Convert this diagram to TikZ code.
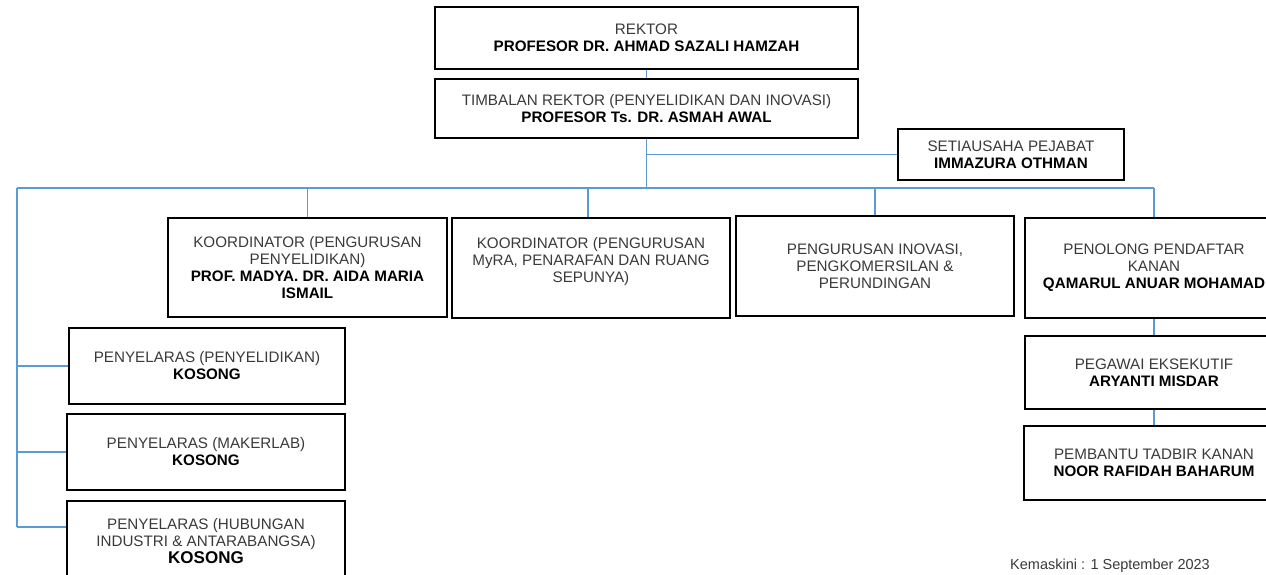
\documentclass[tikz,border=0pt]{standalone}
\usepackage{fontspec}
\setmainfont{Liberation Sans}
\definecolor{linkblue}{HTML}{5B9BD5}
\definecolor{txtgrey}{HTML}{3A3A3A}
\begin{document}
\begin{tikzpicture}[x=1pt,y=-1pt,
  box/.style={draw=black,line width=1.4pt,align=center,inner sep=2pt,
    font=\fontsize{15.2}{17}\selectfont,text=txtgrey},
  link/.style={draw=linkblue,line width=1.5pt}]
\useasboundingbox (0,0) rectangle (1266,575);
\fill[white] (0,0) rectangle (1266,575);
\clip (0,0) rectangle (1266,575);
\newcommand\nmb[1]{{\bfseries\color{black}#1}}
\node[box,minimum width=423pt,minimum height=62pt] (rek) at (646.5,38) {REKTOR\\\nmb{PROFESOR DR. AHMAD SAZALI HAMZAH}};
\node[box,minimum width=423pt,minimum height=59pt] (timb) at (646.5,108.5) {TIMBALAN REKTOR (PENYELIDIKAN DAN INOVASI)\\\nmb{PROFESOR Ts. DR. ASMAH AWAL}};
\node[box,minimum width=226pt,minimum height=51pt] (setia) at (1011,154.5) {SETIAUSAHA PEJABAT\\\nmb{IMMAZURA OTHMAN}};
\node[box,minimum width=279pt,minimum height=99pt] (k1) at (307.5,267.5) {KOORDINATOR (PENGURUSAN\\PENYELIDIKAN)\\\nmb{PROF. MADYA. DR. AIDA MARIA}\\\nmb{ISMAIL}};
\node[box,minimum width=278pt,minimum height=100pt] (k2) at (591,268) {KOORDINATOR (PENGURUSAN\\MyRA, PENARAFAN DAN RUANG\\SEPUNYA)\\\mbox{}};
\node[box,minimum width=278pt,minimum height=100pt] (pi) at (875,266) {PENGURUSAN INOVASI,\\PENGKOMERSILAN \&\\PERUNDINGAN};
\node[box,minimum width=258pt,minimum height=100pt] (pp) at (1154,268) {PENOLONG PENDAFTAR\\KANAN\\\nmb{QAMARUL ANUAR MOHAMAD}};
\node[box,minimum width=258pt,minimum height=73pt] (peg) at (1154,372.5) {PEGAWAI EKSEKUTIF\\\nmb{ARYANTI MISDAR}};
\node[box,minimum width=260pt,minimum height=74pt] (pem) at (1154,463) {PEMBANTU TADBIR KANAN\\\nmb{NOOR RAFIDAH BAHARUM}};
\node[box,minimum width=276pt,minimum height=76pt] (py1) at (207,366) {PENYELARAS (PENYELIDIKAN)\\\nmb{KOSONG}};
\node[box,minimum width=278pt,minimum height=76pt] (py2) at (206,452) {PENYELARAS (MAKERLAB)\\\nmb{KOSONG}};
\node[box,minimum width=278pt,minimum height=80pt] (py3) at (206,541) {PENYELARAS (HUBUNGAN\\INDUSTRI \& ANTARABANGSA)\\{\bfseries\color{black}\fontsize{17}{17}\selectfont KOSONG}};
\node[anchor=north west,inner sep=0pt,font=\fontsize{14.5}{16}\selectfont,text=txtgrey] (upd) at (1010,559) {Kemaskini : 1 September 2023};
\coordinate (busL) at (17,188);
\coordinate (busR) at (1154,188);
\draw[link] (rek.south) -- (timb.north);
\draw[link] (timb.south) -- (timb.south |- busL);
\draw[link] (setia.west) -- (setia.west -| timb.south);
\draw[link] (busL) -- (busR);
\draw[link] (k1.north) -- (k1.north |- busL);
\draw[link] ([xshift=-3pt]k2.north) -- ([xshift=-3pt]k2.north |- busL);
\draw[link] (pi.north) -- (pi.north |- busL);
\draw[link] (pp.north) -- (busR);
\draw[link] (pp.south) -- (peg.north);
\draw[link] (peg.south) -- (pem.north);
\draw[link] (busL) -- ([yshift=14pt]py3.west -| busL);
\draw[link] (py1.west -| busL) -- (py1.west);
\draw[link] (py2.west -| busL) -- (py2.west);
\draw[link] ([yshift=14pt]py3.west -| busL) -- ([yshift=14pt]py3.west);
\end{tikzpicture}
\end{document}
